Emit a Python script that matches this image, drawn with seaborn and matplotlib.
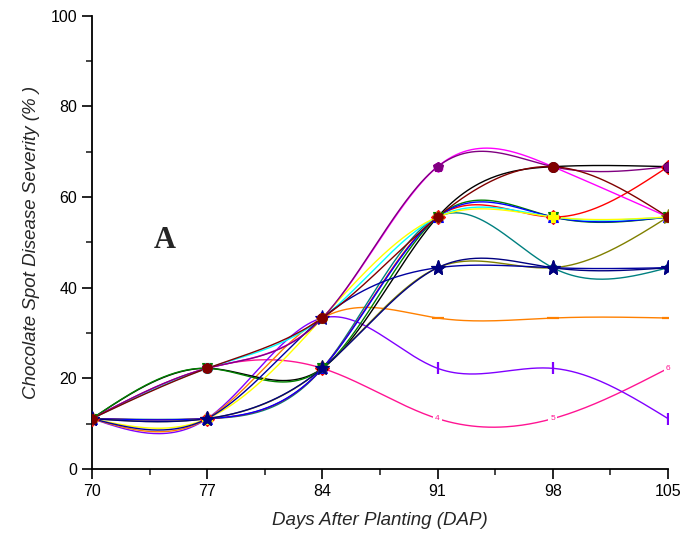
import numpy as np
import pandas as pd
import matplotlib
matplotlib.use("Agg")
import matplotlib.pyplot as plt
import seaborn as sns

days = [70, 77, 84, 91, 98, 105]
s_deeppink = [11.1, 22.2, 22.2, 11.1, 11.1, 22.2]
s_violet = [11.1, 11.1, 33.3, 22.2, 22.2, 11.1]
s_orange = [11.1, 11.1, 33.3, 33.3, 33.3, 33.3]
s_magenta = [11.1, 22.2, 33.3, 66.7, 66.7, 55.6]
s_purple = [11.1, 22.2, 33.3, 66.7, 66.7, 66.7]
s_black = [11.1, 22.2, 22.2, 55.6, 66.7, 66.7]
s_brown = [11.1, 22.2, 33.3, 55.6, 66.7, 55.6]
s_red = [11.1, 11.1, 22.2, 55.6, 55.6, 66.7]
s_green = [11.1, 22.2, 22.2, 55.6, 55.6, 55.6]
s_blue = [11.1, 11.1, 22.2, 55.6, 55.6, 55.6]
s_yellow = [11.1, 11.1, 33.3, 55.6, 55.6, 55.6]
s_cyan = [11.1, 22.2, 33.3, 55.6, 55.6, 55.6]
s_teal = [11.1, 11.1, 22.2, 55.6, 44.4, 44.4]
s_olive = [11.1, 11.1, 22.2, 44.4, 44.4, 55.6]
s_navy = [11.1, 11.1, 22.2, 44.4, 44.4, 44.4]
s_royal = [11.1, 11.1, 33.3, 44.4, 44.4, 44.4]
pink_labels = ["1", "2", "3", "4", "5", "6"]

series = [
    ("T1", s_deeppink, "#FF1493", None),
    ("T2", s_violet, "#8000FF", "|"),
    ("T3", s_orange, "#FF8000", "_"),
    ("T5", s_teal, "#008080", "s"),
    ("T11", s_red, "#FF0000", "D"),
    ("T15", s_magenta, "#FF00FF", "h"),
    ("T10", s_black, "#000000", "o"),
    ("T9", s_green, "#008000", "v"),
    ("T8", s_blue, "#0000FF", "^"),
    ("T12", s_cyan, "#00FFFF", "P"),
    ("T13", s_yellow, "#FFFF00", "P"),
    ("T4", s_olive, "#808000", "*"),
    ("T6", s_royal, "#0000A0", "*"),
    ("T7", s_navy, "#000080", "*"),
    ("T16", s_purple, "#800080", "p"),
    ("T14", s_brown, "#800000", "o"),
]


def natural_spline(x, y, n=300):
    x = np.asarray(x, float)
    y = np.asarray(y, float)
    k = len(x)
    h = np.diff(x)
    A = np.zeros((k, k))
    b = np.zeros(k)
    A[0, 0] = 1
    A[-1, -1] = 1
    for i in range(1, k - 1):
        A[i, i - 1] = h[i - 1]
        A[i, i] = 2 * (h[i - 1] + h[i])
        A[i, i + 1] = h[i]
        b[i] = 6 * ((y[i + 1] - y[i]) / h[i] - (y[i] - y[i - 1]) / h[i - 1])
    M = np.linalg.solve(A, b)
    xs = np.linspace(x[0], x[-1], n)
    idx = np.clip(np.searchsorted(x, xs) - 1, 0, k - 2)
    x0, x1 = x[idx], x[idx + 1]
    hh = x1 - x0
    t0 = x1 - xs
    t1 = xs - x0
    ys = (M[idx] * t0 ** 3 / (6 * hh) + M[idx + 1] * t1 ** 3 / (6 * hh)
          + (y[idx] / hh - M[idx] * hh / 6) * t0
          + (y[idx + 1] / hh - M[idx + 1] * hh / 6) * t1)
    return xs, ys


sns.set_style("ticks")
plt.rcParams['font.family'] = ['Liberation Sans', 'DejaVu Sans']

fig = plt.figure(figsize=(6.81, 5.44), dpi=100)
ax = fig.add_axes([0.135, 0.138, 0.846, 0.833])

for name, vals, col, mk in series:
    xs, ys = natural_spline(days, vals)
    df = pd.DataFrame({"x": xs, "y": ys})
    sns.lineplot(data=df, x="x", y="y", color=col, lw=1.0, ax=ax,
                 estimator=None, sort=False)

for name, vals, col, mk in series:
    if mk is None:
        continue
    if mk in ("|", "_"):
        ax.plot(days, vals, ls="none", marker=mk, ms=9, mew=1.6, color=col,
                zorder=5)
    elif mk == "*":
        ax.plot(days, vals, ls="none", marker=mk, ms=11, mew=0.8, mfc=col,
                mec=col, zorder=5)
    elif mk == "s":
        ax.plot(days, vals, ls="none", marker=mk, ms=5, mew=0.8, mfc=col,
                mec=col, zorder=5)
    else:
        ax.plot(days, vals, ls="none", marker=mk, ms=7, mew=0.8, mfc=col,
                mec=col, zorder=5)

for d, v, lab in list(zip(days, s_deeppink, pink_labels))[3:]:
    ax.text(d, v, lab, color="#FF1493", fontsize=6, ha="center", va="center",
            zorder=6, bbox=dict(boxstyle="square,pad=0.25", fc="white",
                                ec="none"))

ax.set_xlim(70, 105)
ax.set_ylim(0, 100)
ax.set_xticks(days)
ax.set_xticks(np.arange(73.5, 105, 7), minor=True)
ax.set_yticks(np.arange(0, 101, 20))
ax.set_yticks(np.arange(10, 100, 20), minor=True)
ax.tick_params(axis="both", which="major", length=7, width=1.2,
               labelsize=11.5, direction="out", colors="black")
ax.tick_params(axis="both", which="minor", length=4, width=1.2,
               direction="out")
for s in ["left", "bottom"]:
    ax.spines[s].set_linewidth(1.3)
    ax.spines[s].set_color("black")
sns.despine(ax=ax)

lab_font = dict(family=['Liberation Sans Narrow', 'Liberation Sans', 'DejaVu Sans'],
                style="italic", fontsize=13.5)
ax.set_xlabel("Days After Planting (DAP)", labelpad=10, **lab_font)
ax.set_ylabel("Chocolate Spot Disease Severity (% )", labelpad=8, **lab_font)

ax.text(74.4, 50.5, "A", fontsize=22, fontweight="bold",
        family=['Liberation Serif', 'DejaVu Serif'], ha="center", va="center")

fig.savefig("out.png", dpi=100)
